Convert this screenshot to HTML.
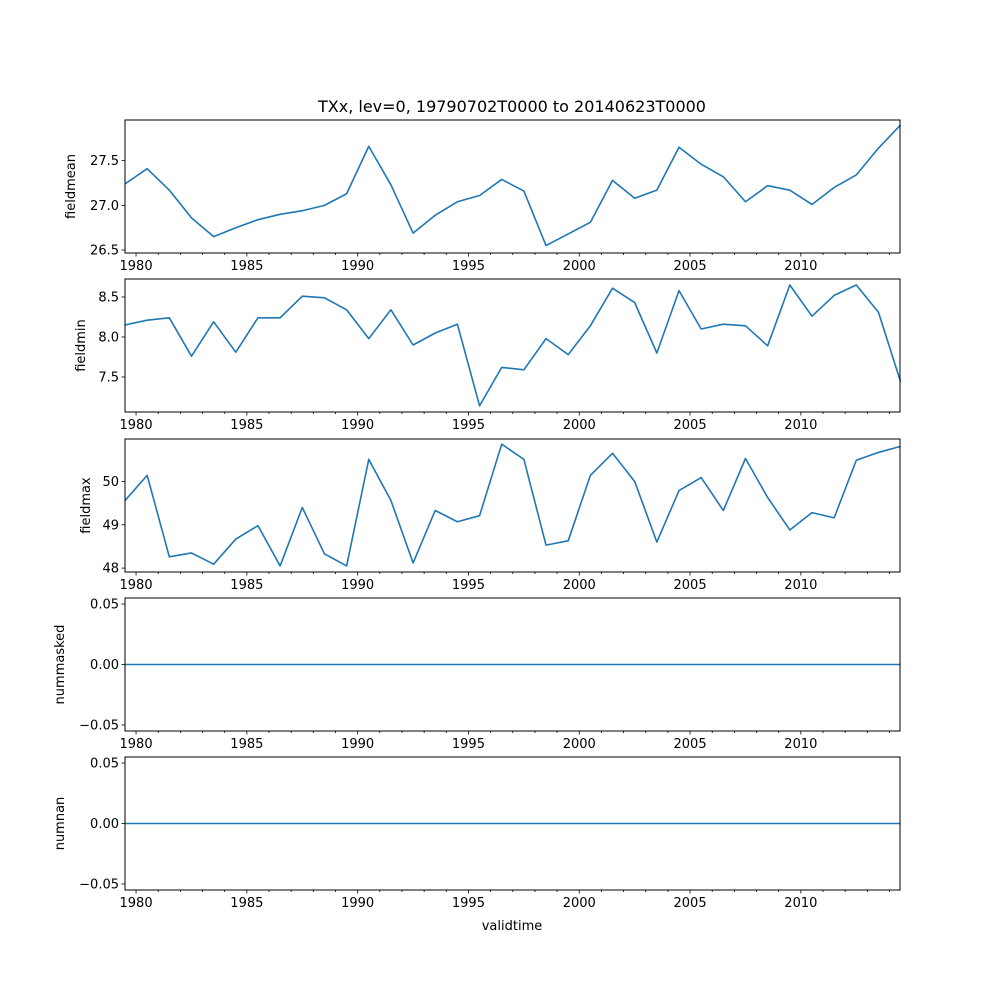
<!DOCTYPE html>
<html><head><meta charset="utf-8"><style>
body{margin:0;background:#fff}
svg{display:block;font-family:"DejaVu Sans","Liberation Sans",sans-serif}
</style></head><body>
<svg id="fig" width="1000" height="1000" viewBox="0 0 1000 1000">
<rect width="1000" height="1000" fill="#fff"/>
<text x="512" y="112" font-size="16" text-anchor="middle">TXx, lev=0, 19790702T0000 to 20140623T0000</text>
<text x="512" y="930" font-size="13" text-anchor="middle">validtime</text>
</svg>
<script>
const years = [1979,1980,1981,1982,1983,1984,1985,1986,1987,1988,1989,1990,1991,1992,1993,1994,1995,1996,1997,1998,1999,2000,2001,2002,2003,2004,2005,2006,2007,2008,2009,2010,2011,2012,2013,2014];
const fieldmean = [27.24,27.41,27.17,26.86,26.65,26.75,26.84,26.9,26.94,27.0,27.13,27.66,27.23,26.69,26.89,27.04,27.11,27.29,27.16,26.55,26.68,26.81,27.28,27.08,27.17,27.65,27.46,27.32,27.04,27.22,27.17,27.01,27.2,27.34,27.64,27.9];
const fieldmin = [8.15,8.21,8.24,7.76,8.19,7.81,8.24,8.24,8.51,8.49,8.34,7.98,8.34,7.90,8.05,8.16,7.14,7.62,7.59,7.98,7.78,8.14,8.61,8.43,7.80,8.58,8.10,8.16,8.14,7.89,8.65,8.26,8.52,8.65,8.31,7.44];
const fieldmax = [49.56,50.14,48.26,48.35,48.09,48.67,48.98,48.05,49.4,48.33,48.05,50.51,49.56,48.12,49.33,49.07,49.21,50.86,50.51,48.53,48.63,50.14,50.65,50.0,48.6,49.79,50.09,49.33,50.53,49.63,48.88,49.28,49.16,50.49,50.67,50.81];
const nummasked = years.map(()=>0);
const numnan = years.map(()=>0);
const xTickLabels = [1980,1985,1990,1995,2000,2005,2010];
const panelNames = ["fieldmean","fieldmin","fieldmax","nummasked","numnan"];
const panelSeries = [fieldmean,fieldmin,fieldmax,nummasked,numnan];
const yTicks = [[26.5,27.0,27.5],[7.5,8.0,8.5],[48,49,50],[-0.05,0,0.05],[-0.05,0,0.05]];
const yTickText = [["26.5","27.0","27.5"],["7.5","8.0","8.5"],["48","49","50"],["\u22120.05","0.00","0.05"],["\u22120.05","0.00","0.05"]];
const yDomains = [[26.467,27.955],[7.0625,8.725],[47.91,50.98],[-0.055,0.055],[-0.055,0.055]];

const NS="http://www.w3.org/2000/svg";
const svg=document.getElementById('fig');
const X0=125,X1=900;
const t0=1979+183/365, t1=2014+173/365;
const xs=t=>X0+(t-t0)/(t1-t0)*(X1-X0);
const tops=[120,279,439,598,757], H=133;
function mk(tag,attrs,parent){const e=document.createElementNS(NS,tag);for(const k in attrs)e.setAttribute(k,attrs[k]);(parent||svg).appendChild(e);return e;}
panelSeries.forEach((series,p)=>{
  const top=tops[p],bot=top+H,[d0,d1]=yDomains[p];
  const ys=v=>bot-(v-d0)/(d1-d0)*H;
  const g=mk('g',{});
  
  
  const pts=series.map((v,i)=>xs(years[i]+183/365).toFixed(2)+','+ys(v).toFixed(2)).join(' ');
  const line=mk('polyline',{points:pts,fill:'none',stroke:'#1f77b4','stroke-width':1.6,'stroke-linejoin':'round'},g);
  
  
  const fr=mk('rect',{x:X0,y:top,width:X1-X0,height:H,fill:'none',stroke:'#000','stroke-width':1},g);
  
  
  for(let y=1980;y<=2014;y++){
    const x=xs(y), major=(y%5===0);
    mk('line',{x1:x,x2:x,y1:bot,y2:bot+(major?3.5:2),stroke:'#000','stroke-width':0.8},g);
  }
  xTickLabels.forEach(y=>{
    const t=mk('text',{x:xs(y),y:bot+17,'font-size':13,'text-anchor':'middle'},g);
    t.textContent=y;
    
    
  });
  yTicks[p].forEach((v,k)=>{
    const y=ys(v);
    mk('line',{x1:X0-3.5,x2:X0,y1:y,y2:y,stroke:'#000','stroke-width':0.8},g);
    const t=mk('text',{x:X0-6,y:y+4.5,'font-size':13,'text-anchor':'end'},g);
    t.textContent=yTickText[p][k];
    
    
  });
  const lx=p>=3?64:(p===0?75:(p===1?85:90));
  const yl=mk('text',{x:lx,y:top+H/2,'font-size':13,'text-anchor':'middle',transform:`rotate(-90 ${lx} ${top+H/2})`},g);
  yl.textContent=panelNames[p];
  
  
});
</script>
</body></html>
